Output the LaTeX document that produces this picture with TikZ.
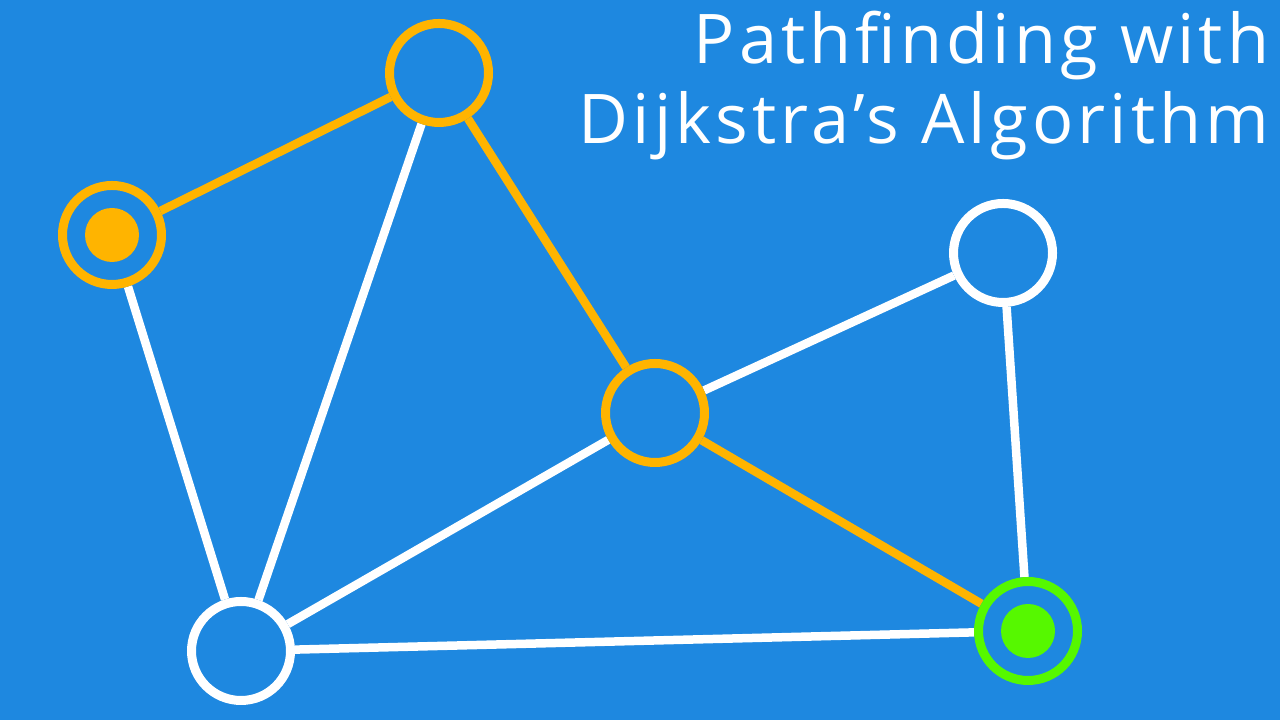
\documentclass[tikz,border=0pt]{standalone}
\usepackage{fontspec}
\setmainfont{Open Sans}
\usepackage{xcolor}
\definecolor{bgblueDJ}{RGB}{30,136,224}
\definecolor{orangeDJ}{RGB}{255,180,0}
\definecolor{greenDJ}{RGB}{86,248,0}
\usetikzlibrary{positioning, backgrounds}

\begin{document}
\begin{tikzpicture}[
    vertex/.style={circle, draw=white, line width=0.09cm, minimum size=0.99cm, inner sep=0pt},
    visited/.style={vertex, draw=orangeDJ},
    target/.style={vertex, draw=greenDJ},
    link/.style={draw=white, line width=0.085cm},
    route/.style={link, draw=orangeDJ},
    title/.style={anchor=base east, text=white, inner sep=0pt,
                  font=\fontsize{19.5}{24}\selectfont\addfontfeatures{LetterSpace=6}}
]
        \useasboundingbox (0,0) rectangle (12.8,7.2);
        % Define dot size
        \def\dotsize{0.27}

        % === Vertices ===
        \node[visited] (start)  at (1.12,4.85)  {};
        \node[visited] (peak)   at (4.39,6.47)  {};
        \node[visited] (hub)    at (6.55,3.07)  {};
        \node[vertex]  (corner) at (10.03,4.67) {};
        \node[vertex]  (base)   at (2.41,0.69)  {};
        \node[target]  (goal)   at (10.28,0.89) {};

        % Start and goal markers
        \fill[orangeDJ] (start) circle (\dotsize);
        \fill[greenDJ] (goal) circle (\dotsize);

        % === Edges (behind the vertices) ===
        \begin{pgfonlayer}{background}
            \fill[bgblueDJ] (0,0) rectangle (12.8,7.2);
            \foreach \a/\b in {start/base, peak/base, hub/base, hub/corner, corner/goal, base/goal} {\draw[link] (\a) -- (\b);}
            % shortest path
            \foreach \a/\b in {start/peak, peak/hub, hub/goal} {\draw[route] (\a) -- (\b);}
        \end{pgfonlayer}

        % === Title ===
        \node[title] (titletop) at (12.70,6.56) {Pathfinding with};
        \node[title] (titlebottom) at (12.70,5.76) {Dijkstra’s Algorithm};
\end{tikzpicture}
\end{document}
